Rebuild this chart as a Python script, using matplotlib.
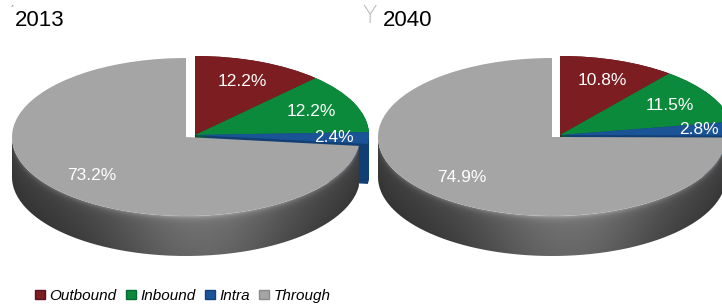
import numpy as np
import matplotlib.pyplot as plt
from matplotlib.patches import Patch, PathPatch
from matplotlib.path import Path

categories = ['Outbound', 'Inbound', 'Intra', 'Through']
titles = ['2013', '2040']
shares_2013 = [12.2, 12.2, 2.4, 73.2]
shares_2040 = [10.8, 11.5, 2.8, 74.9]

top_colors = ['#7c1d21', '#0b8a3b', '#1b5496', '#a5a5a5']
side_colors = ['#561215', '#06662a', '#123f73', '#5a5a5a']
legend_edges = ['#5a1020', '#066a35', '#123f80', '#8a8a8a']

W, H = 722, 307
plt.rcParams['font.family'] = ['Liberation Sans', 'DejaVu Sans']
fig = plt.figure(figsize=(W / 100, H / 100), dpi=100)


def draw_pie(shares, cx, cy, rx, ry, depth_px, shift_px):
    # full-figure axes, scaled so a pie of radius 1 becomes an rx x ry ellipse (pixels)
    ax = fig.add_axes([0, 0, 1, 1])
    ax.set_axis_off()
    ax.patch.set_alpha(0)
    depth = depth_px / ry
    sx, sy = shift_px[0] / rx, shift_px[1] / ry
    hide = 'none'
    wp = dict(linewidth=0)

    # exploded group (outbound, inbound, intra): stacked layers for the side
    n_layers = 40
    for k in range(n_layers):
        d = depth * (1 - k / (n_layers - 1))
        ws, _ = ax.pie(shares, startangle=90, counterclock=False,
                       colors=side_colors[:3] + [hide],
                       center=(sx, sy - d), wedgeprops=wp)
        for w in ws:
            w.set_zorder(1)
    group, _ = ax.pie(shares, startangle=90, counterclock=False,
                      colors=top_colors[:3] + [hide],
                      center=(sx, sy), wedgeprops=wp)
    for w in group:
        w.set_zorder(2)

    # through slice: shaded side band + top face
    rest, _ = ax.pie(shares, startangle=90, counterclock=False,
                     colors=[hide] * 3 + top_colors[3:],
                     center=(0, 0), wedgeprops=wp)
    for w in rest:
        w.set_zorder(4)
    t_end = rest[3].theta2
    th = np.radians(np.linspace(-180, t_end, 200))
    verts = np.concatenate([np.c_[np.cos(th), np.sin(th)],
                            np.c_[np.cos(th[::-1]), np.sin(th[::-1]) - depth]])
    band = PathPatch(Path(verts), facecolor='none', edgecolor='none',
                     transform=ax.transData)
    ax.add_patch(band)
    xs = np.linspace(-1, 1, 400)
    ys = np.linspace(-1 - depth, 0.1, 200)
    X, Y = np.meshgrid(xs, ys)
    rim = -np.sqrt(np.clip(1 - X ** 2, 0, None))
    t = np.clip((rim - Y) / depth, 0, 1)
    shade = (0.25 + 0.2 * np.exp(-((X - 0.1) / 0.55) ** 2)
             + 0.2 * np.exp(-t / 0.07) - 0.05 * t)
    img = np.dstack([shade] * 3).clip(0, 1)
    im = ax.imshow(img, extent=(-1, 1, -1 - depth, 0.1), origin='lower',
                   aspect='auto', zorder=3, interpolation='bilinear')
    im.set_clip_path(band)

    # percentage labels
    for i, w in enumerate(list(group[:3]) + [rest[3]]):
        mid = np.radians((w.theta1 + w.theta2) / 2)
        r = 0.8 if shares[i] < 5 else 0.73
        x0, y0 = w.center
        ax.text(x0 + r * np.cos(mid), y0 + r * np.sin(mid), f'{shares[i]:.1f}%',
                ha='center', va='center', color='white', fontsize=12.5, zorder=5)

    ax.set_aspect('auto')
    ax.set_xlim(-cx / rx, (W - cx) / rx)
    ax.set_ylim((cy - H) / ry, cy / ry)
    return ax


draw_pie(shares_2013, 186, 137, 174, 79, 40, (9, 2))
draw_pie(shares_2040, 552, 137, 174, 79, 40, (8, 2))

fig.text(15 / W, 1 - 21 / H, titles[0], fontsize=16, va='center', ha='left')
fig.text(383 / W, 1 - 21 / H, titles[1], fontsize=16, va='center', ha='left')
fig.text(10 / W, 1 - 12 / H, '\u02ca', fontsize=10, color='#999999', va='center')
fig.text(362 / W, 1 - 16 / H, 'Y', fontsize=17, color='#bbbbbb', va='center',
         family=['DejaVu Sans'], fontweight='light')

handles = [Patch(facecolor=c, edgecolor=e, linewidth=1)
           for c, e in zip(top_colors, legend_edges)]
fig.legend(handles, categories, loc='center left',
           bbox_to_anchor=(35 / W, 1 - 296 / H), ncol=4, frameon=False,
           prop=dict(style='italic', size=11), handlelength=0.65,
           handleheight=0.6, handletextpad=0.3, columnspacing=0.6,
           borderpad=0, borderaxespad=0)

fig.savefig('out.png', dpi=100)
